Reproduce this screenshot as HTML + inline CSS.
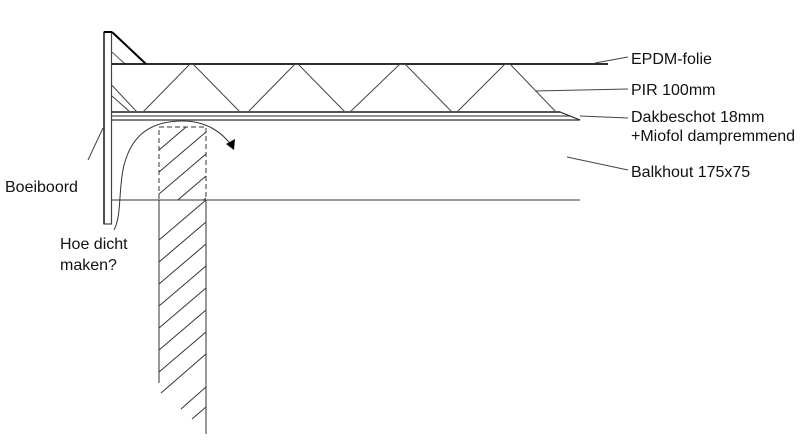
<!DOCTYPE html>
<html><head><style>body{margin:0;background:#fff}svg{display:block}text{font-family:"Liberation Sans",Arial,sans-serif;font-size:16px;fill:#111}</style></head>
<body>
<svg width="800" height="446" viewBox="0 0 800 446" xmlns="http://www.w3.org/2000/svg">
<defs>
<clipPath id="j1"><rect x="159" y="127" width="47" height="73"/></clipPath>
<clipPath id="j2"><rect x="159" y="200" width="47" height="234"/></clipPath>
<clipPath id="pir"><rect x="112" y="64" width="470" height="48"/></clipPath>
</defs>
<rect x="0" y="0" width="800" height="446" fill="#fff"/>
<rect x="104" y="32" width="7.5" height="192" fill="none" stroke="#444" stroke-width="1.2"/>
<line x1="104" y1="32" x2="104" y2="224" stroke="#222" stroke-width="1.5"/>
<line x1="104" y1="32" x2="112" y2="32" stroke="#000" stroke-width="2"/>
<line x1="112" y1="32" x2="146" y2="64" stroke="#000" stroke-width="2"/>
<line x1="112" y1="52" x2="125" y2="64" stroke="#555" stroke-width="1"/>
<line x1="112" y1="64" x2="608" y2="64" stroke="#111" stroke-width="1.8"/>
<g clip-path="url(#pir)" stroke="#444" stroke-width="1" fill="none">
<polyline points="92,64 137,112 143,112 190,64 193,64 240,112 248,112 295,64 298,64 345,112 350,112 400,64 405,64 452,112 457,112 505,64 510,64 556,112 561,112"/>
</g>
<line x1="112" y1="96" x2="130" y2="112" stroke="#444" stroke-width="1"/>
<line x1="112" y1="112" x2="560" y2="112" stroke="#555" stroke-width="2"/>
<line x1="112" y1="116" x2="570" y2="116" stroke="#555" stroke-width="1.2"/>
<line x1="112" y1="120" x2="580" y2="120" stroke="#555" stroke-width="1.5"/>
<line x1="560" y1="112" x2="580" y2="120" stroke="#222" stroke-width="1.2"/>
<line x1="112" y1="200" x2="580" y2="200" stroke="#333" stroke-width="1"/>
<rect x="159" y="127" width="47" height="73" fill="none" stroke="#333" stroke-width="1" stroke-dasharray="5,3"/>
<g clip-path="url(#j1)" stroke="#333" stroke-width="1">
<line x1="159" y1="150" x2="206" y2="110"/><line x1="159" y1="172" x2="206" y2="132"/><line x1="159" y1="194" x2="206" y2="154"/><line x1="159" y1="216" x2="206" y2="176"/><line x1="159" y1="238" x2="206" y2="198"/>
</g>
<line x1="159" y1="200" x2="159" y2="383" stroke="#333" stroke-width="1"/>
<line x1="206" y1="200" x2="206" y2="434" stroke="#333" stroke-width="1"/>
<g clip-path="url(#j2)" stroke="#333" stroke-width="1">
<line x1="159" y1="240" x2="206" y2="200"/><line x1="159" y1="262" x2="206" y2="222"/><line x1="159" y1="284" x2="206" y2="244"/><line x1="159" y1="306" x2="206" y2="266"/><line x1="159" y1="328" x2="206" y2="288"/><line x1="159" y1="350" x2="206" y2="310"/><line x1="159" y1="372" x2="206" y2="332"/><line x1="161" y1="393" x2="206" y2="354"/><line x1="181" y1="409" x2="206" y2="387"/><line x1="192" y1="419" x2="206" y2="407"/>
</g>
<path d="M114,230 C122,215 118,190 124,165 C132,135 150,122 180,121 C205,120 222,132 232,146" fill="none" stroke="#333" stroke-width="1"/>
<polygon points="234,150 226,144 235,139" fill="#000"/>
<g stroke="#444" stroke-width="1">
<line x1="103" y1="128" x2="88" y2="160"/>
<line x1="595" y1="63" x2="628" y2="57"/>
<line x1="535" y1="91" x2="628" y2="89"/>
<line x1="580" y1="116" x2="628" y2="118"/>
<line x1="567" y1="157" x2="628" y2="170"/>
</g>
<text x="631" y="64">EPDM-folie</text>
<text x="631" y="95">PIR 100mm</text>
<text x="631" y="122">Dakbeschot 18mm</text>
<text x="631" y="141">+Miofol dampremmend</text>
<text x="631" y="177">Balkhout 175x75</text>
<text x="5" y="192">Boeiboord</text>
<text x="60" y="249">Hoe dicht</text>
<text x="60" y="270">maken?</text>
</svg>
</body></html>
